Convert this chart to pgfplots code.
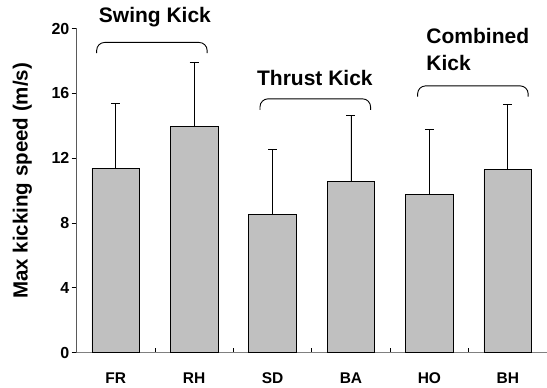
\documentclass[border=0pt]{standalone}
\usepackage{pgfplots}
\pgfplotsset{compat=1.18}
\usepackage{fontspec}
\setmainfont{Liberation Sans}
\definecolor{barfill}{RGB}{192,192,192}
\definecolor{axgray}{RGB}{128,128,128}
\definecolor{yaxgray}{RGB}{90,90,90}
\begin{document}
\begin{tikzpicture}
\begin{axis}[
  name=ax,
  scale only axis,
  width=470.5bp, height=324.2bp,
  xmin=-0.5, xmax=5.5, ymin=0, ymax=20,
  axis x line*=bottom, axis y line*=left,
  axis line style={-, line width=0.9bp},
  x axis line style={axgray},
  y axis line style={yaxgray},
  xtick={0,1,2,3,4,5},
  xticklabels={FR,RH,SD,BA,HO,BH},
  minor xtick={0.5,1.5,2.5,3.5,4.5},
  major x tick style={draw=none},
  minor x tick style={black, line width=0.8bp, yshift=5bp},
  minor tick length=5bp,
  major tick length=5bp,
  tick align=outside,
  ytick={0,4,8,12,16,20},
  major y tick style={black, line width=0.9bp},
  /pgf/number format/assume math mode=true,
  xticklabel style={font=\bfseries\fontsize{15.5bp}{18bp}\selectfont, anchor=north, inner sep=0pt, yshift=-15bp},
  yticklabel style={font=\bfseries\fontsize{16bp}{18bp}\selectfont, anchor=east, inner sep=0pt, xshift=-2bp},
  ylabel={Max kicking speed (m/s)},
  ylabel style={font=\bfseries\fontsize{20.5bp}{24bp}\selectfont, at={(axis description cs:-0.1148,0.53)}, anchor=center},
  clip=false,
  ybar, bar width=47.6bp, bar shift=0pt,
]
\addplot[fill=barfill, draw=black, line width=0.8bp,
  error bars/.cd, y dir=plus, y explicit,
  error bar style={black, line width=0.9bp},
  error mark=-,
  error mark options={black, line width=0.9bp, mark size=4.5bp, rotate=90}]
  table[x=x, y=y, y error=e] {
x y e
0 11.38 3.99
1 13.93 4.00
2 8.54 3.97
3 10.56 4.09
4 9.78 4.01
5 11.28 4.03
};
\draw[black, line width=0.9bp, rounded corners=8bp]
  (axis cs:-0.243,18.48) -- (axis cs:-0.243,19.14) -- (axis cs:1.166,19.14) -- (axis cs:1.166,18.48);
\draw[black, line width=0.9bp, rounded corners=8bp]
  (axis cs:1.84,14.98) -- (axis cs:1.84,15.66) -- (axis cs:3.25,15.66) -- (axis cs:3.25,14.98);
\draw[black, line width=0.9bp, rounded corners=8bp]
  (axis cs:3.85,15.80) -- (axis cs:3.85,16.46) -- (axis cs:5.26,16.46) -- (axis cs:5.26,15.80);
\node[font=\bfseries\fontsize{21bp}{25bp}\selectfont, inner sep=0pt] at (axis cs:0.5,20.73) {Swing Kick};
\node[font=\bfseries\fontsize{21bp}{25bp}\selectfont, inner sep=0pt] at (axis cs:2.54,16.96) {Thrust Kick};
\node[font=\bfseries\fontsize{21bp}{25bp}\selectfont, inner sep=0pt, anchor=west] at (axis cs:3.96,19.55) {Combined};
\node[font=\bfseries\fontsize{21bp}{25bp}\selectfont, inner sep=0pt, anchor=west] at (axis cs:3.96,17.90) {Kick};
\end{axis}
\pgfresetboundingbox
\path[use as bounding box] ([xshift=-76.5bp,yshift=-34.3bp]ax.south west) rectangle ([yshift=28.5bp]ax.north east);
\end{tikzpicture}
\end{document}
